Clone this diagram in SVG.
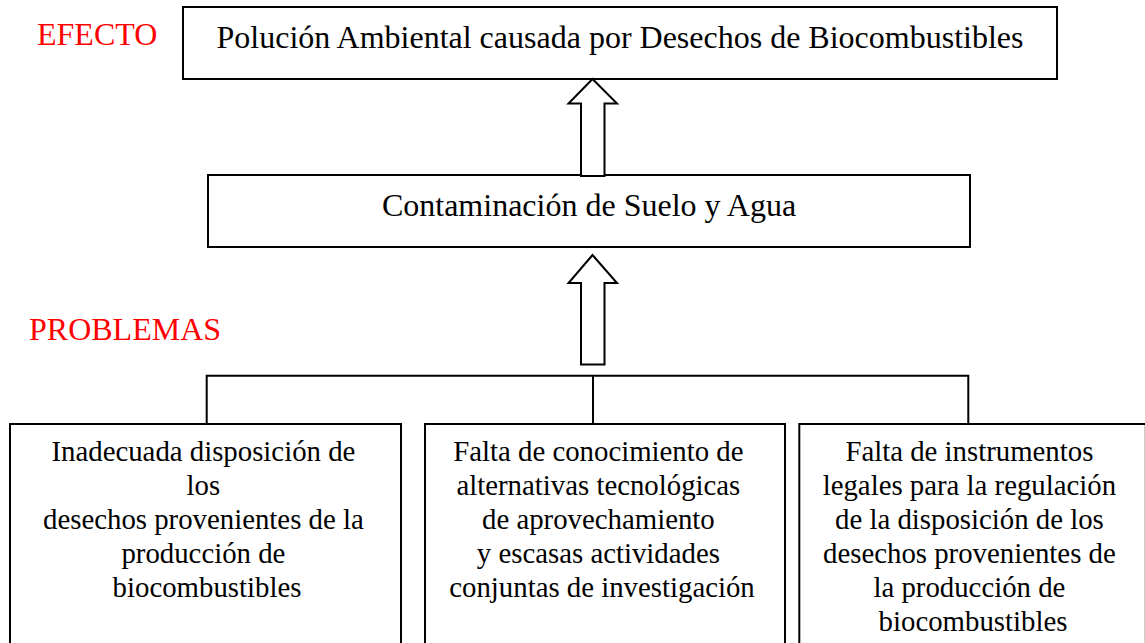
<svg xmlns="http://www.w3.org/2000/svg" width="1145" height="643" viewBox="0 0 1145 643">
<style>
.box{fill:#fff;stroke:#000;stroke-width:2}
.t{font-family:"Liberation Serif","Times New Roman",serif;fill:#000;text-anchor:middle}
.big{font-size:32px}
.sm{font-size:28.8px}
.lbl{font-family:"Liberation Serif","Times New Roman",serif;font-size:32px;fill:#ff0000}
.arrow{fill:#fff;stroke:#000;stroke-width:2;stroke-linejoin:miter}
.conn{fill:none;stroke:#000;stroke-width:2}
</style>
<rect width="1145" height="643" fill="#fff"/>
<text class="lbl" x="37" y="45">EFECTO</text>
<text class="lbl" x="29" y="340">PROBLEMAS</text>
<g id="efecto">
<rect class="box" x="183" y="7" width="874" height="72"/>
<text class="t big" x="620" y="48">Polución Ambiental causada por Desechos de Biocombustibles</text>
</g>
<g id="contaminacion">
<rect class="box" x="208" y="175" width="762" height="72"/>
<text class="t big" x="589" y="216">Contaminación de Suelo y Agua</text>
</g>
<g id="connectors">
<polygon class="arrow" points="592.5,79 617,103.5 604.5,103.5 604.5,176 581,176 581,103.5 568.5,103.5"/>
<polygon class="arrow" points="592.5,255 617,283 604.5,283 604.5,364.5 581,364.5 581,283 568.5,283"/>
<path class="conn" d="M206.7,424 V375.7 H968.3 V424 M593,375.7 V424"/>
</g>
<g id="problema1">
<rect class="box" x="10" y="424" width="391" height="230"/>
<text class="t sm" x="207">
<tspan x="207" y="461">Inadecuada disposición de</tspan>
<tspan x="207" y="495">los</tspan>
<tspan x="207" y="529">desechos provenientes de la</tspan>
<tspan x="207" y="563">producción de</tspan>
<tspan x="207" y="597">biocombustibles</tspan>
</text>
</g>
<g id="problema2">
<rect class="box" x="425" y="424" width="360" height="230"/>
<text class="t sm" x="602">
<tspan x="602" y="461">Falta de conocimiento de</tspan>
<tspan x="602" y="495">alternativas tecnológicas</tspan>
<tspan x="602" y="529">de aprovechamiento</tspan>
<tspan x="602" y="563">y escasas actividades</tspan>
<tspan x="602" y="597">conjuntas de investigación</tspan>
</text>
</g>
<g id="problema3">
<rect class="box" x="799.3" y="424" width="346.5" height="230"/>
<text class="t sm" x="973">
<tspan x="973" y="461">Falta de instrumentos</tspan>
<tspan x="973" y="495">legales para la regulación</tspan>
<tspan x="973" y="529">de la disposición de los</tspan>
<tspan x="973" y="563">desechos provenientes de</tspan>
<tspan x="973" y="597">la producción de</tspan>
<tspan x="973" y="631">biocombustibles</tspan>
</text>
</g>
</svg>
